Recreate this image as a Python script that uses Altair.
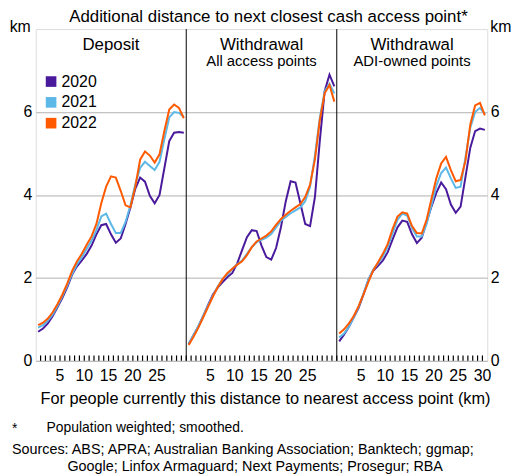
import altair as alt
import pandas as pd

FONT = "Liberation Sans"

DIST = [k + 0.5 for k in range(31)]
YEARS = ["2020", "2021", "2022"]
COLORS = ["#4a1a9c", "#5cb8e6", "#ff5a00"]
PANEL_TITLES = ["Deposit", "Withdrawal", "Withdrawal"]
PANEL_SUBS = ["", "All access points", "ADI-owned points"]
X_TICK_LABELS = [5, 10, 15, 20, 25]

# Deposit
DEP_2020 = [0.70, 0.78, 0.90, 1.08, 1.30, 1.52, 1.78, 2.08, 2.28, 2.42, 2.58, 2.78, 3.05, 3.27, 3.30, 3.05,
            2.85, 2.95, 3.30, 3.70, 4.15, 4.42, 4.32, 3.98, 3.80, 4.00, 4.65, 5.30, 5.50, 5.52, 5.50]
DEP_2021 = [0.80, 0.86, 0.97, 1.12, 1.33, 1.56, 1.82, 2.10, 2.33, 2.50, 2.70, 2.90, 3.15, 3.48, 3.55, 3.30,
            3.08, 3.08, 3.35, 3.75, 4.25, 4.65, 4.80, 4.70, 4.60, 4.80, 5.35, 5.87, 6.00, 5.98, 5.88]
DEP_2022 = [0.86, 0.92, 1.02, 1.17, 1.37, 1.60, 1.87, 2.17, 2.40, 2.58, 2.80, 3.00, 3.30, 3.80, 4.20, 4.45,
            4.42, 4.10, 3.75, 3.70, 4.20, 4.85, 5.05, 4.95, 4.78, 4.98, 5.55, 6.06, 6.18, 6.10, 5.85]
# Withdrawal - all access points
WAL_2020 = [0.40, 0.62, 0.83, 1.08, 1.35, 1.60, 1.77, 1.90, 2.02, 2.12, 2.35, 2.67, 2.98, 3.15, 3.13, 2.78,
            2.50, 2.44, 2.72, 3.22, 3.85, 4.33, 4.30, 3.80, 3.30, 3.25, 3.95, 5.30, 6.50, 6.90, 6.62]
WAL_2021 = [0.42, 0.62, 0.84, 1.08, 1.33, 1.57, 1.79, 1.97, 2.08, 2.22, 2.33, 2.42, 2.58, 2.74, 2.86, 2.92,
            2.97, 3.06, 3.22, 3.38, 3.47, 3.56, 3.63, 3.70, 3.85, 4.20, 4.95, 5.85, 6.50, 6.68, 6.45]
WAL_2022 = [0.38, 0.58, 0.80, 1.05, 1.30, 1.55, 1.78, 1.97, 2.12, 2.22, 2.32, 2.40, 2.55, 2.74, 2.88, 2.95,
            3.02, 3.12, 3.28, 3.42, 3.52, 3.62, 3.70, 3.78, 3.95, 4.25, 4.85, 5.80, 6.45, 6.65, 6.25]
# Withdrawal - ADI-owned points
WADI_2020 = [0.47, 0.63, 0.82, 1.05, 1.28, 1.60, 1.95, 2.17, 2.29, 2.42, 2.62, 2.93, 3.22, 3.38, 3.35, 3.05,
             2.84, 2.97, 3.35, 3.72, 4.05, 4.30, 4.14, 3.77, 3.57, 3.72, 4.43, 5.14, 5.54, 5.60, 5.57]
WADI_2021 = [0.56, 0.66, 0.82, 1.05, 1.30, 1.62, 1.95, 2.20, 2.35, 2.52, 2.75, 3.08, 3.40, 3.55, 3.50, 3.20,
             3.00, 3.00, 3.30, 3.75, 4.22, 4.53, 4.66, 4.40, 4.17, 4.20, 4.90, 5.62, 6.00, 6.10, 5.95]
WADI_2022 = [0.66, 0.76, 0.90, 1.08, 1.32, 1.60, 1.90, 2.18, 2.38, 2.58, 2.82, 3.18, 3.48, 3.58, 3.55, 3.25,
             3.08, 3.07, 3.40, 3.90, 4.40, 4.76, 4.92, 4.60, 4.33, 4.36, 4.82, 5.70, 6.16, 6.22, 5.92]

SERIES = [
    [DEP_2020, DEP_2021, DEP_2022],
    [WAL_2020, WAL_2021, WAL_2022],
    [WADI_2020, WADI_2021, WADI_2022],
]

PANEL_SPAN = 31
rows = []
for p, panel in enumerate(SERIES):
    for yr, vals in zip(YEARS, panel):
        for d, v in zip(DIST, vals):
            rows.append({"panel": p, "year": yr, "xpos": p * PANEL_SPAN + d, "value": v})
df = pd.DataFrame(rows)

# tick label table (5..25 in each panel, plus 30 on the last one)
tl_rows = []
for p in range(3):
    labs = X_TICK_LABELS + ([30] if p == 2 else [])
    for v in labs:
        tl_rows.append({"pos": p * PANEL_SPAN + v, "lab": str(v)})
tl_df = pd.DataFrame(tl_rows)

W, H = 456, 335
TICK_KM = 0.13  # inward tick length in axis units
xscale = alt.Scale(domain=[0, 3 * PANEL_SPAN], nice=False, zero=False)
yscale = alt.Scale(domain=[0, 8], nice=False)
cscale = alt.Scale(domain=YEARS, range=COLORS)

lines = alt.Chart(df).mark_line(strokeWidth=2).encode(
    x=alt.X("xpos:Q", scale=xscale, axis=None),
    y=alt.Y("value:Q", scale=yscale,
            axis=alt.Axis(values=[0, 2, 4, 6], ticks=False, domain=False, grid=True,
                          gridColor="#b0b0b0", gridWidth=1, labelFontSize=16, labelPadding=4,
                          labelColor="black", labelFont=FONT, title=None, orient="left")),
    color=alt.Color("year:N", scale=cscale, legend=None),
    detail="panel:N",
)

right_axis = alt.Chart(df).mark_point(opacity=0).encode(
    x=alt.X("xpos:Q", scale=xscale, axis=None),
    y=alt.Y("value:Q", scale=yscale,
            axis=alt.Axis(values=[0, 2, 4, 6], ticks=False, domain=False, grid=False,
                          labelFontSize=16, labelPadding=3, labelColor="black", labelFont=FONT,
                          title=None, orient="right")),
)

mt_df = pd.DataFrame({"mpos": [float(v) for v in range(1, 93)]})
mt_df["ylo"] = 0.0
mt_df["yhi"] = TICK_KM
ticks = alt.Chart(mt_df).mark_rule(color="black", strokeWidth=1.2, opacity=1).encode(
    x=alt.X("mpos:Q", scale=xscale, axis=None),
    y=alt.Y("ylo:Q", scale=yscale, axis=None),
    y2="yhi:Q",
)

tick_labels = alt.Chart(tl_df).mark_text(fontSize=16, font=FONT, color="black", baseline="middle").encode(
    x=alt.X("pos:Q", scale=xscale, axis=None), y=alt.value(H + 15), text="lab:N")

div_df = pd.DataFrame({"d": [PANEL_SPAN, 2 * PANEL_SPAN]})
dividers = alt.Chart(div_df).mark_rule(color="black", strokeWidth=1).encode(
    x=alt.X("d:Q", scale=xscale, axis=None),
    y=alt.value(0), y2=alt.value(H),
)

pt_df = pd.DataFrame({
    "c": [PANEL_SPAN * (i + 0.5) for i in range(3)],
    "title": PANEL_TITLES,
    "sub": PANEL_SUBS,
})
ptitle = alt.Chart(pt_df).mark_text(fontSize=17, font=FONT, color="black", baseline="middle").encode(
    x=alt.X("c:Q", scale=xscale, axis=None), y=alt.value(16), text="title:N")
psub = alt.Chart(pt_df).mark_text(fontSize=15, font=FONT, color="black", baseline="middle").encode(
    x=alt.X("c:Q", scale=xscale, axis=None), y=alt.value(32), text="sub:N")


def label(txt, x, y, size, align="left"):
    return alt.Chart(pd.DataFrame({"txt": [txt]})).mark_text(
        fontSize=size, font=FONT, color="black", align=align, baseline="middle"
    ).encode(x=alt.value(x), y=alt.value(y), text="txt:N")


def swatch(color, x, y):
    return alt.Chart(pd.DataFrame({"c": [color]})).mark_square(
        size=115, filled=True, opacity=1, color=color
    ).encode(x=alt.value(x), y=alt.value(y))


legend_layers = []
for i, (yr, col) in enumerate(zip(YEARS, COLORS)):
    ly = 53 + 21 * i
    legend_layers.append(swatch(col, 15.5, ly))
    legend_layers.append(label(yr, 26, ly, 16))

title = label("Additional distance to next closest cash access point*", 235, -12, 17, "center")
km_l = label("km", -5, -2, 16, "right")
km_r = label("km", W + 3, -2, 16, "left")
xtitle = label("For people currently this distance to nearest access point (km)", 232, H + 39, 16.5, "center")
fn1 = label("*", -24, 404, 14)
fn2 = label("Population weighted; smoothed.", 11, 403, 14)
fn3 = label("Sources: ABS; APRA; Australian Banking Association; Banktech; ggmap;", -24, 425, 14.5)
fn4 = label("Google; Linfox Armaguard; Next Payments; Prosegur; RBA", 32, 442, 14.5)

chart = alt.layer(
    lines, right_axis, tick_labels, dividers, ptitle, psub, title, km_l, km_r, xtitle,
    fn1, fn2, fn3, fn4, *legend_layers, ticks
).resolve_axis(y="independent").properties(
    width=W, height=H,
    autosize=alt.AutoSizeParams(type="none"),
    padding={"left": 28, "top": 19, "right": 30, "bottom": 112},
).configure_view(stroke="black", strokeWidth=1).configure(font=FONT)

chart.save("out.html", embed_options={"renderer": "svg", "actions": False})
